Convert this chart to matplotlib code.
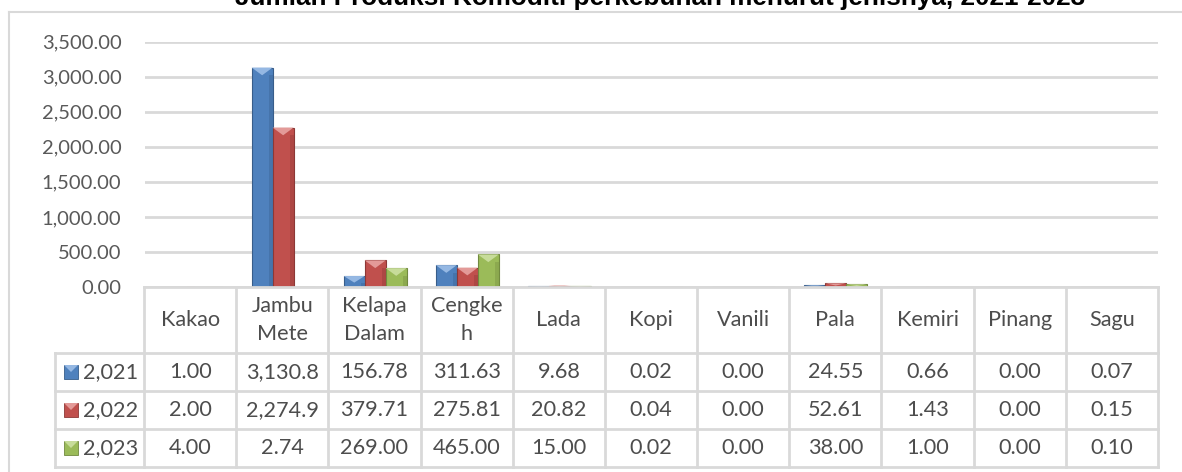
import numpy as np
import matplotlib.pyplot as plt
from matplotlib.patches import Polygon, Rectangle
from matplotlib.lines import Line2D

plt.rcParams['font.family'] = ['Lato', 'DejaVu Sans']

# data (Jumlah produksi komoditi perkebunan)
kategori = ['Kakao', 'Jambu\nMete', 'Kelapa\nDalam', 'Cengke\nh', 'Lada', 'Kopi',
            'Vanili', 'Pala', 'Kemiri', 'Pinang', 'Sagu']
tahun = ['2,021', '2,022', '2,023']
prod_2021 = [1.00, 3130.80, 156.78, 311.63, 9.68, 0.02, 0.00, 24.55, 0.66, 0.00, 0.07]
prod_2022 = [2.00, 2274.90, 379.71, 275.81, 20.82, 0.04, 0.00, 52.61, 1.43, 0.00, 0.15]
prod_2023 = [4.00, 2.74, 269.00, 465.00, 15.00, 0.02, 0.00, 38.00, 1.00, 0.00, 0.10]
yticks = np.arange(0, 3501, 500)
judul = 'Jumlah Produksi Komoditi perkebunan menurut jenisnya, 2021-2023'

warna = ['#4F81BD', '#C0504D', '#9BBB59']
warna_tepi = ['#385D8A', '#8C3836', '#71893F']
warna_terang = ['#95B8E3', '#E39A98', '#C7DC9A']
grid_c = '#D9D9D9'

W, H = 1182, 472


def fx(px):
    return px / W


def fy(py):
    return 1 - py / H


fig = plt.figure(figsize=(W / 100, H / 100), dpi=100)

# chart frame
fig.add_artist(Line2D([fx(9), fx(9)], [fy(12), 0], color=grid_c, lw=1.5))
fig.add_artist(Line2D([fx(9), 1], [fy(12), fy(12)], color=grid_c, lw=1.5))

# title (cut off at the top like in the source)
t = fig.text(fx(235), fy(5), judul, ha='left', va='baseline', fontweight='bold',
             family=['Liberation Sans Narrow', 'Liberation Sans'], size=20, color='black')
r = fig.canvas.get_renderer()
t.set_fontsize(20 * 847 / t.get_window_extent(r).width)

# bar chart
ax = fig.add_axes([fx(145), fy(287), fx(1158) - fx(145), fy(41.7) - fy(287)])
n = len(kategori)
x = np.arange(n)
bw = 0.228
for k, vals in enumerate([prod_2021, prod_2022, prod_2023]):
    pos = x + 0.5 + (k - 1) * bw
    bars = ax.bar(pos, vals, bw, color=warna[k], edgecolor=warna_tepi[k], linewidth=0.8, zorder=3)
    for b in bars:
        h = b.get_height()
        if h <= 0:
            continue
        x0, w = b.get_x(), b.get_width()
        d = min(110, h * 0.6)
        ax.add_patch(Polygon([[x0, h], [x0 + w, h], [x0 + w / 2, h - d]], closed=True,
                             facecolor=warna_terang[k], lw=0, zorder=4))
        ax.add_patch(Rectangle((x0 + w * 0.82, 0), w * 0.18, max(h - d, 0),
                               facecolor=warna_tepi[k], alpha=0.35, lw=0, zorder=4))

ax.set_xlim(0, n)
ax.set_ylim(0, 3500)
ax.set_yticks(yticks)
ax.set_yticklabels([f'{v:,.2f}' for v in yticks])
ax.tick_params(axis='y', length=0, pad=17, labelsize=14.5, labelcolor='#595959')
ax.set_xticks([])
ax.grid(axis='y', color=grid_c, lw=2)
ax.set_axisbelow(True)
for s in ax.spines.values():
    s.set_visible(False)

# data table under the chart
tab = fig.add_axes([fx(55), fy(467), fx(1158) - fx(55), fy(287) - fy(467)])
colw = (1158 - 144) / n
lab_w = (144 - 55) / colw
header_h, row_h = 66, 38
tab.set_xlim(-lab_w, n)
tab.set_ylim(header_h + 3 * row_h, 0)
tab.axis('off')

kw = dict(color=grid_c, lw=2, clip_on=False)
tab.plot([0, n], [0, 0], **kw)
for i in range(4):
    yy = header_h + row_h * i
    tab.plot([-lab_w, n], [yy, yy], **kw)
tab.plot([-lab_w, -lab_w], [header_h, header_h + 3 * row_h], **kw)
for i in range(n + 1):
    tab.plot([i, i], [0, header_h + 3 * row_h], **kw)

txt_c = '#4D4D4D'
fs = 15.6
for i, kat in enumerate(kategori):
    tab.text(i + 0.5, header_h / 2, kat, ha='center', va='center', fontsize=fs,
             color=txt_c, linespacing=1.45)

for rr, vals in enumerate([prod_2021, prod_2022, prod_2023]):
    yc = header_h + row_h * (rr + 0.5)
    for i, v in enumerate(vals):
        tab.text(i + 0.5, yc, f'{v:,.2f}'[:7], ha='center', va='center', fontsize=fs, color=txt_c)
    # legend key
    mx = -lab_w + 9 / colw
    mw = 14 / colw
    tab.add_patch(Rectangle((mx, yc - 7), mw, 14, facecolor=warna[rr], edgecolor=warna_tepi[rr],
                            lw=0.6, clip_on=False))
    tab.add_patch(Polygon([[mx, yc - 7], [mx + mw, yc - 7], [mx + mw / 2, yc]], closed=True,
                          facecolor=warna_terang[rr], lw=0, clip_on=False))
    tab.text(-lab_w + 28 / colw, yc, tahun[rr], ha='left', va='center', fontsize=fs, color=txt_c)

fig.savefig('out.png', dpi=100)
